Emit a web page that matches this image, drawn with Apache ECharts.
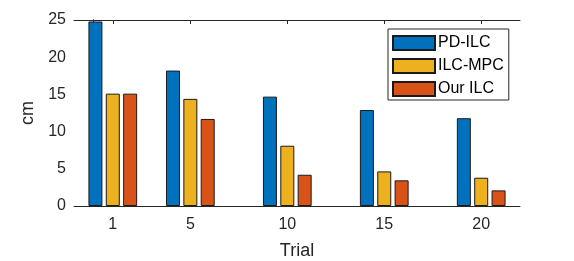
<!DOCTYPE html>
<html>
<head>
<meta charset="utf-8">
<script src="https://cdn.jsdelivr.net/npm/echarts@6/dist/echarts.min.js"></script>
<style>html,body{margin:0;padding:0;background:#fff}#c{width:574px;height:261px}</style>
</head>
<body>
<div id="c"></div>
<script>
var trials = [1, 5, 10, 15, 20];
var pdIlc = [24.8, 18.2, 14.7, 12.9, 11.8];
var ilcMpc = [15.1, 14.4, 8.1, 4.65, 3.8];
var ourIlc = [15.1, 11.7, 4.2, 3.45, 2.1];
var yTicks = [0, 5, 10, 15, 20, 25];
var seriesNames = ['PD-ILC', 'ILC-MPC', 'Our ILC'];

var FONT = '"Liberation Sans", Arial, Helvetica, sans-serif';
var AX = '#262626';
function pairs(v){ return trials.map(function(t,i){ return [t, v[i]]; }); }

var chart = echarts.init(document.getElementById('c'), null, {renderer:'canvas'});
var xBase = {
  type:'value', min:-1, max:22,
  axisLine:{show:true, onZero:false, lineStyle:{color:AX, width:1}},
  splitLine:{show:false}
};
var yBase = {
  type:'value', min:0, max:25, interval:5,
  axisLine:{show:true, lineStyle:{color:AX, width:1}},
  splitLine:{show:false}
};
var option = {
  animation:false,
  backgroundColor:'#fff',
  grid:{left:74, right:54, top:20, bottom:55, containLabel:false, outerBoundsMode:'none'},
  xAxis:[
    Object.assign({}, xBase, {
      position:'bottom',
      name:'Trial', nameLocation:'middle', nameGap:36,
      nameTextStyle:{color:AX, fontSize:18, fontFamily:FONT},
      axisTick:{show:true, inside:true, length:4, customValues:trials, lineStyle:{color:AX}},
      axisLabel:{show:true, customValues:trials, color:AX, fontSize:16, fontFamily:FONT, margin:11}
    }),
    Object.assign({}, xBase, {
      position:'top',
      axisTick:{show:true, inside:true, length:4, customValues:trials, lineStyle:{color:AX}},
      axisLabel:{show:false}
    })
  ],
  yAxis:[
    Object.assign({}, yBase, {
      position:'left',
      name:'cm', nameLocation:'middle', nameGap:26, nameRotate:90,
      nameTextStyle:{color:AX, fontSize:18, fontFamily:FONT},
      axisTick:{show:true, inside:true, length:4, lineStyle:{color:AX}},
      axisLabel:{show:true, color:AX, fontSize:16, fontFamily:FONT, margin:8,
        formatter:function(v){ return yTicks.indexOf(v) >= 0 ? String(v) : ''; }}
    }),
    Object.assign({}, yBase, {
      position:'right',
      axisTick:{show:true, inside:true, length:4, lineStyle:{color:AX}},
      axisLabel:{show:false}
    })
  ],
  legend:{
    data:seriesNames,
    orient:'vertical',
    left:388, top:29,
    itemWidth:42, itemHeight:14, itemGap:7,
    padding:[6,5,3,4],
    backgroundColor:'#fff',
    borderColor:AX, borderWidth:1, borderRadius:0,
    icon:'rect',
    textStyle:{color:'#000', fontSize:16, lineHeight:14, fontFamily:FONT, padding:[0,0,0,-2]}
  },
  series:[
    {name:seriesNames[0], type:'bar', data:pairs(pdIlc), barWidth:14, barGap:'24%',
     itemStyle:{color:'#0072BD', borderColor:'#1a1a1a', borderWidth:1}},
    {name:seriesNames[1], type:'bar', data:pairs(ilcMpc), barWidth:14, barGap:'24%',
     itemStyle:{color:'#EDB120', borderColor:'#1a1a1a', borderWidth:1}},
    {name:seriesNames[2], type:'bar', data:pairs(ourIlc), barWidth:14, barGap:'24%',
     itemStyle:{color:'#D95319', borderColor:'#1a1a1a', borderWidth:1}}
  ]
};
chart.setOption(option);
</script>
</body>
</html>
